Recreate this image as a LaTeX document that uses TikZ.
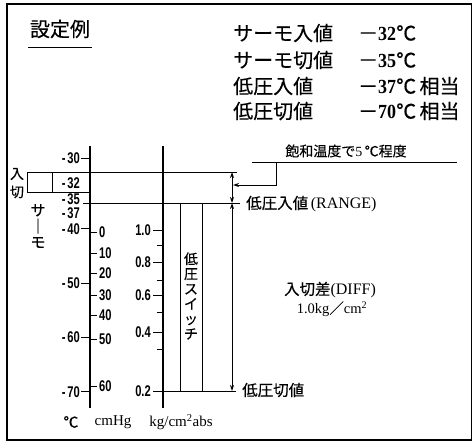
\documentclass[tikz,border=0pt]{standalone}
\usepackage{graphicx}
\usepackage{fontspec}
\setmainfont{Liberation Serif}
\newfontfamily\jpf[FakeBold=0.3]{Noto Sans CJK JP}
\newfontfamily\numf{Liberation Sans}
\usetikzlibrary{arrows.meta}
\newcommand\cnum[1]{{\numf\bfseries\fontsize{15.5}{16}\selectfont\scalebox{0.72}[1]{#1}}}
\newcommand\hval[1]{{\jpf －}{\bfseries\scalebox{0.9}[1]{#1}}{\jpf ℃}}
\tikzset{
  frame/.style={line width=1.6pt},
  axisline/.style={line width=1.4pt},
  thinline/.style={line width=1pt},
  jpbig/.style={font=\jpf\fontsize{20}{21}\selectfont, inner sep=0pt},
  jpmid/.style={font=\jpf\fontsize{15.5}{17}\selectfont, inner sep=0pt},
  jpsmall/.style={font=\jpf\fontsize{14}{16}\selectfont, inner sep=0pt},
  hv/.style={font=\fontsize{20}{21}\selectfont, inner sep=0pt},
  lab/.style={inner sep=0pt, text height=11pt, text depth=0pt},
  unit/.style={font=\fontsize{15}{16}\selectfont, inner sep=0pt},
  dimarr/.style={{Stealth[length=6pt,width=4pt]}-{Stealth[length=6pt,width=4pt]}, thinline},
}
\begin{document}
\begin{tikzpicture}[x=1pt,y=-1pt]
\useasboundingbox (0,0) rectangle (473,442);
\draw[frame] (7,4) rectangle (471.5,440);

% title
\node[jpbig] (title) at (60,29) {設定例};
\coordinate (ulA) at (28,47);
\coordinate (ulB) at (92,47);
\draw[thinline] (ulA) -- (ulB);

% header table
\node[jpbig, anchor=west] (r1a) at (233,33) {サーモ入値};
\node[jpbig, anchor=west] (r2a) at (233,60) {サーモ切値};
\node[jpbig, anchor=west] (r3a) at (233,86) {低圧入値};
\node[jpbig, anchor=west] (r4a) at (233,111) {低圧切値};
\node[hv, anchor=west] (r1b) at (358,33) {\hval{32}};
\node[hv, anchor=west] (r2b) at (358,60) {\hval{35}};
\node[hv, anchor=west] (r3b) at (358,86) {\hval{37}\,{\jpf 相当}};
\node[hv, anchor=west] (r4b) at (358,111) {\hval{70}\,{\jpf 相当}};

% axes
\coordinate (cT) at (90,146); \coordinate (cB) at (90,408);
\coordinate (kT) at (163,146); \coordinate (kB) at (163,408);
\draw[axisline] (cT) -- (cB);
\draw[axisline] (kT) -- (kB);

% degC ticks and labels
\foreach \y in {158,228,283,337,391} \draw[thinline] (81,\y) -- (90,\y);
\foreach \y/\t/\n in {158/30/a,183/32/b,199/35/c,213/37/d,229/40/e,283/50/f,337/60/g,392/70/h}
  \node[lab, anchor=east] (dc\n) at (80,\y) {\cnum{-\,\t}};

% cmHg ticks and labels
\foreach \y/\t/\n in {232/0/a,253/10/b,273/20/c,295/30/d,315/40/e,339/50/f,386/60/g}{
  \draw[thinline] (90,\y) -- (97,\y);
  \node[lab, anchor=west] (hg\n) at (99,\y) {\cnum{\t}};
}

% kg ticks and labels
\foreach \y/\t/\n in {230/1.0/a,262/0.8/b,295/0.6/c,332/0.4/d}{
  \draw[thinline] (153,\y) -- (163,\y);
  \node[lab, anchor=east] (kg\n) at (151,\y) {\cnum{\t}};
}
\node[lab, anchor=east] (kge) at (151,391) {\cnum{0.2}};
\foreach \y in {245,280,312,349} \draw[thinline] (157,\y) -- (163,\y);

% thermo box
\coordinate (bTL) at (27,172); \coordinate (bBL) at (27,192);
\coordinate (bTM) at (52,172); \coordinate (bBM) at (52,192);
\coordinate (bBR) at (90,192);
\coordinate (l1R) at (237,172);
\coordinate (l2L) at (83,203); \coordinate (l2R) at (240,203);
\draw[thinline] (bBL) -- (bTL) -- (l1R);
\draw[thinline] (bBL) -- (bBR);
\draw[thinline] (bTM) -- (bBM);
\draw[thinline] (l2L) -- (l2R);
\node[jpsmall] (in) at (17,174) {入};
\node[jpsmall] (off) at (17,192) {切};
\node[jpsmall, align=center, font=\jpf\fontsize{15}{16}\selectfont] (thermo) at (38,226) {サ\\｜\\モ};

% low pressure switch
\coordinate (s1T) at (180,203); \coordinate (s1B) at (180,391);
\coordinate (s2T) at (202,203); \coordinate (s2B) at (202,391);
\coordinate (bL) at (153,391); \coordinate (bR) at (236,391);
\draw[thinline] (s1T) -- (s1B);
\draw[thinline] (s2T) -- (s2B);
\draw[thinline] (bL) -- (bR);
\node[jpsmall, align=center, font=\jpf\fontsize{14}{15}\selectfont] (sw) at (191,296) {低\\圧\\ス\\イ\\ッ\\チ};

% dimension arrows
\coordinate (aT) at (232,172); \coordinate (aM) at (232,203); \coordinate (aB) at (232,391);
\draw[dimarr] (aT) -- (aM);
\draw[dimarr] (aM) -- (aB);

% leader
\node[jpsmall] (sat) at (346,151) {飽和温度で{\rmfamily 5}\,℃程度};
\coordinate (ld1) at (252,162); \coordinate (ld2) at (457,162);
\coordinate (ld3) at (276,162); \coordinate (ld4) at (276,185); \coordinate (ld5) at (233,185);
\draw[thinline] (ld1) -- (ld2);
\draw[thinline, -{Stealth[length=6pt,width=4pt]}] (ld3) -- (ld4) -- (ld5);

% labels
\node[jpmid, anchor=west] (range) at (246,204) {低圧入値\,{\rmfamily\fontsize{16}{17}\selectfont (RANGE)}};
\node[jpmid] (diff) at (330,290) {入切差{\rmfamily\fontsize{16}{17}\selectfont (DIFF)}};
\node[inner sep=0pt, font=\fontsize{14.5}{15}\selectfont] (diffv) at (332,309) {1.0kg{\jpf ／}cm$^{\mathrm 2}$};
\node[jpmid, anchor=west] (cut) at (242,390) {低圧切値};

% units
\node[unit] (u1) at (71,422) {{\jpf ℃}};
\node[unit] (u2) at (113,422) {cmHg};
\node[unit] (u3) at (181,422) {kg/cm$^{\mathrm 2}$abs};
\end{tikzpicture}
\end{document}
